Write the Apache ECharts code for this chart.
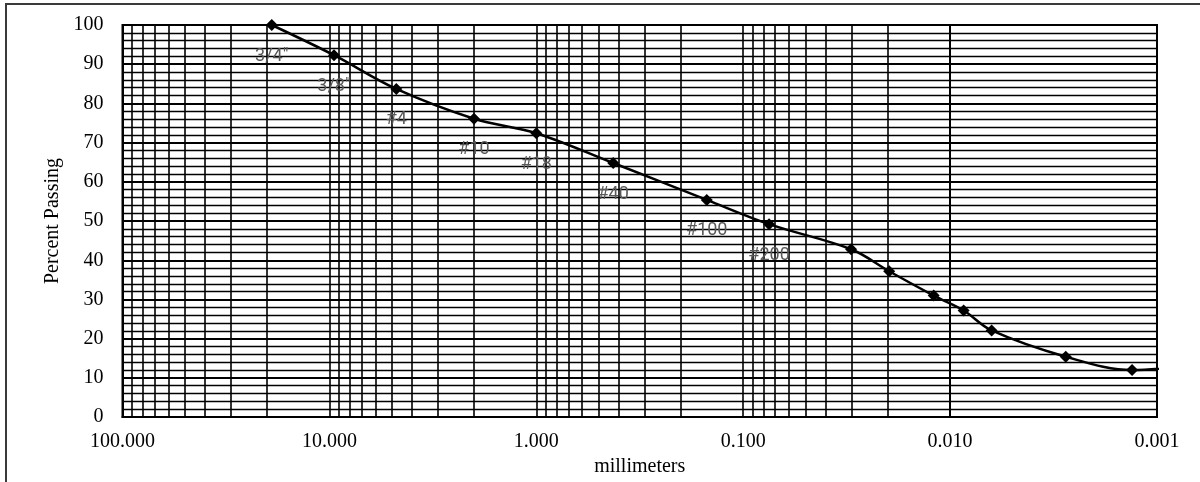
<!DOCTYPE html>
<html>
<head>
<meta charset="utf-8">
<title>Percent Passing</title>
<script src="https://cdn.jsdelivr.net/npm/echarts@6/dist/echarts.min.js"></script>
<style>
  html, body { margin: 0; padding: 0; background: #fff; }
  #chart { width: 1200px; height: 482px; }
</style>
</head>
<body>
<div id="chart"></div>
<script>
// sieve results
var sieveNames = ['3/4"', '3/8"', '#4', '#10', '#18', '#40', '#100', '#200'];
var sieveSizes = [19, 9.5, 4.75, 2.0, 1.0, 0.425, 0.15, 0.075];
var sievePassing = [100, 92.3, 83.7, 76.1, 72.4, 64.8, 55.4, 49.2];
// hydrometer results (last one falls past 0.001 and is clipped)
var hydroSizes = [0.0301, 0.0197, 0.0120, 0.0086, 0.0063, 0.00276, 0.00132, 0.0007];
var hydroPassing = [42.8, 37.2, 31.0, 27.2, 22.1, 15.4, 12.0, 13.2];

// axes
var xTickLabels = ['100.000', '10.000', '1.000', '0.100', '0.010', '0.001'];
var decades = [10, 1, 0.1, 0.01, 0.001];
var minorSteps = [2, 3, 4, 5, 6, 7, 8, 9];

var points = [];
for (var i = 0; i < sieveSizes.length; i++) {
  points.push({ name: sieveNames[i], value: [sieveSizes[i], sievePassing[i]] });
}
for (var j = 0; j < hydroSizes.length; j++) {
  points.push({ name: '', value: [hydroSizes[j], hydroPassing[j]], label: { show: false } });
}

// log minor grid lines, 2..9 in each decade
var minorLines = [];
decades.forEach(function (d) {
  minorSteps.forEach(function (m) {
    minorLines.push({ xAxis: d * m });
  });
});

var chart = echarts.init(document.getElementById('chart'));
var option = {
  animation: false,
  backgroundColor: '#fff',
  graphic: [{
    type: 'rect',
    shape: { x: 6, y: 4, width: 1400, height: 700 },
    style: { fill: 'none', stroke: '#3a3a3a', lineWidth: 2 },
    silent: true
  }],
  grid: {
    left: 122.5, right: 43, top: 25, bottom: 57,
    show: true, borderColor: '#000', borderWidth: 2, backgroundColor: 'transparent'
  },
  xAxis: {
    type: 'log',
    logBase: 10,
    min: 0.001,
    max: 100,
    splitNumber: 5,
    inverse: true,
    name: 'millimeters',
    nameLocation: 'middle',
    nameGap: 36,
    nameTextStyle: { fontFamily: 'Liberation Serif', fontSize: 20, color: '#000' },
    axisLine: { show: true, lineStyle: { color: '#000', width: 2 } },
    axisTick: { show: false },
    axisLabel: {
      margin: 15,
      fontFamily: 'Liberation Serif', fontSize: 20, color: '#000',
      formatter: function (v) {
        return xTickLabels[Math.round(2 - Math.log10(v))];
      }
    },
    splitLine: { show: true, lineStyle: { color: '#000', width: 1.6 } }
  },
  yAxis: {
    type: 'value',
    min: 0,
    max: 100,
    interval: 10,
    name: 'Percent Passing',
    nameLocation: 'middle',
    nameGap: 59,
    nameTextStyle: { fontFamily: 'Liberation Serif', fontSize: 20, color: '#000' },
    axisLine: { show: true, lineStyle: { color: '#000', width: 2 } },
    axisTick: { show: false },
    axisLabel: { margin: 19, fontFamily: 'Liberation Serif', fontSize: 20, color: '#000' },
    splitLine: { show: true, lineStyle: { color: '#000', width: 2.2 } },
    minorTick: { show: false, splitNumber: 5 },
    minorSplitLine: { show: true, lineStyle: { color: '#000', width: 1.3 } }
  },
  series: [
    {
      name: 'grid',
      type: 'line',
      z: 1,
      data: [],
      silent: true,
      markLine: {
        silent: true,
        symbol: 'none',
        label: { show: false },
        lineStyle: { color: '#000', width: 1.6, type: 'solid' },
        data: minorLines
      }
    },
    {
      name: 'Percent Passing',
      type: 'line',
      z: 10,
      smooth: 0.35,
      clip: true,
      data: points,
      symbol: 'diamond',
      symbolSize: 12,
      itemStyle: { color: '#000' },
      lineStyle: { color: '#000', width: 2.5 },
      label: {
        show: true,
        position: 'bottom',
        distance: 16,
        formatter: '{b}',
        fontFamily: 'Roboto',
        fontSize: 18,
        color: '#595959'
      }
    }
  ]
};
chart.setOption(option);
window.addEventListener('resize', chart.resize);
</script>
</body>
</html>
